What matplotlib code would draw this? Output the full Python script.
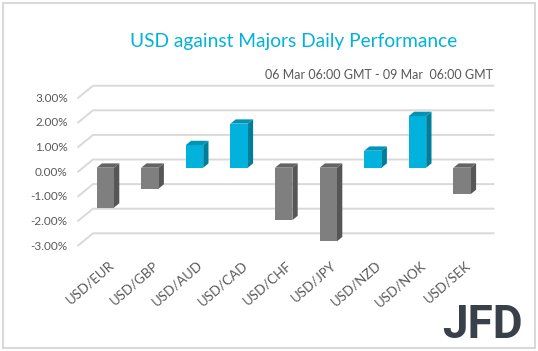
import numpy as np
import matplotlib.pyplot as plt
from matplotlib.patches import Polygon, Rectangle

pairs = ["USD/EUR", "USD/GBP", "USD/AUD", "USD/CAD", "USD/CHF",
         "USD/JPY", "USD/NZD", "USD/NOK", "USD/SEK"]
perf = [-1.62, -0.85, 0.92, 1.79, -2.13, -2.99, 0.69, 2.10, -1.07]
ticks = [3, 2, 1, 0, -1, -2, -3]

title = "USD against Majors Daily Performance"
subtitle = "06 Mar 06:00 GMT - 09 Mar  06:00 GMT"

CYAN = "#00b2dc"
CYAN_SIDE = "#007d99"
CYAN_TOP = "#0093b5"
GREY = "#7f7f7f"
GREY_SIDE = "#565656"
GREY_TOP = "#646464"
GRID = "#d9d9d9"
TXT = "#595959"

plt.rcParams['font.family'] = ['Lato', 'DejaVu Sans']

W, H = 538, 351
fig = plt.figure(figsize=(W / 100, H / 100), dpi=100)

# pixel scale: 44.6 px per category, 24.6 px per 1%
px_x, px_y = 44.6, 24.6
x0_px, y0_px = 105.3, 167.7
xlim = (-1.0, 9.0)
ylim = (-3.6, 3.6)
left = (x0_px + px_x * xlim[0]) / W
right = (x0_px + px_x * xlim[1]) / W
top = 1 - (y0_px - px_y * ylim[1]) / H
bottom = 1 - (y0_px - px_y * ylim[0]) / H
ax = fig.add_axes([left, bottom, right - left, top - bottom])
ax.set_xlim(*xlim)
ax.set_ylim(*ylim)
ax.axis("off")

# depth offsets (data units)
fdx, fdy = -5.5 / px_x, -4.5 / px_y      # front edge of floor/walls
bdx, bdy = 10.0 / px_x, 8.2 / px_y       # back wall
sdx, sdy = 5.3 / px_x, 4.3 / px_y        # bar depth

x = np.arange(len(pairs))
wall_l, wall_r = -0.5, 8.5

# gridlines in perspective
for t in ticks:
    ax.plot([wall_l + fdx, wall_l + bdx, wall_r + bdx],
            [t + fdy, t + bdy, t + bdy], color=GRID, lw=1.4, zorder=1,
            solid_capstyle="butt")
    ax.text(wall_l + fdx - 0.22, t + fdy, f"{t:.2f}%", ha="right", va="center",
            fontsize=8.5, color=TXT)

# 3D bars
bw = 0.39
colors = [CYAN if v > 0 else GREY for v in perf]
ax.bar(x, perf, width=bw, color=colors, zorder=3, linewidth=0)
for xi, v, c in zip(x, perf, colors):
    side = CYAN_SIDE if v > 0 else GREY_SIDE
    topc = CYAN_TOP if v > 0 else GREY_TOP
    r = xi + bw / 2
    l = xi - bw / 2
    ax.add_patch(Polygon([(r, 0), (r + sdx, sdy), (r + sdx, v + sdy), (r, v)],
                         closed=True, facecolor=side, edgecolor="none", zorder=2.9))
    h = max(v, 0)
    ax.add_patch(Polygon([(l, h), (l + sdx, h + sdy), (r + sdx, h + sdy), (r, h)],
                         closed=True, facecolor=topc, edgecolor="none", zorder=3.1))

for xi, lab in zip(x, pairs):
    ax.text(xi + 0.06, ylim[0] - 0.1, lab, rotation=41, rotation_mode="anchor",
            ha="right", va="top", fontsize=9.5, color=TXT, clip_on=False)

fig.text(294 / W, 1 - 41 / H, title, ha="center", va="center",
         fontsize=13.8, color=CYAN)
fig.text(493 / W, 1 - 75 / H, subtitle, ha="right", va="center",
         fontsize=9, color=TXT)

# JFD logo
fig.text(523 / W, 1 - 325 / H, "JFD", ha="right", va="center",
         fontsize=33, fontweight="bold", color="#3a4049", family="Roboto")

# outer frame
fig.add_artist(Rectangle((2.5 / W, 3.5 / H), 532 / W, 344.5 / H,
                         transform=fig.transFigure, fill=False,
                         edgecolor=GRID, lw=1.5))

plt.savefig("out.png", dpi=100)
